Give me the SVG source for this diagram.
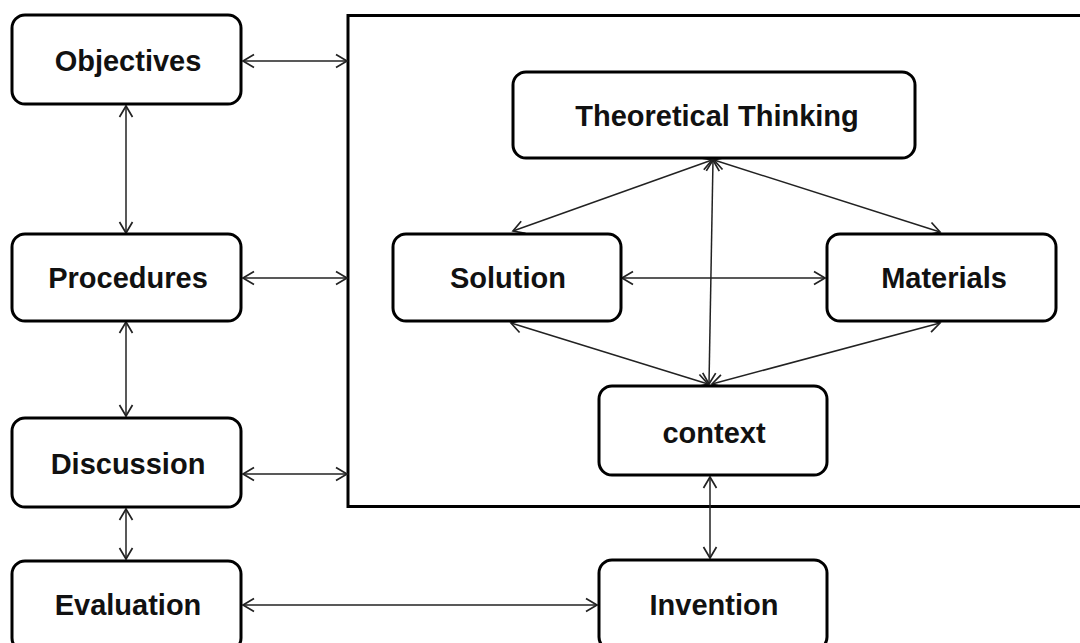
<svg xmlns="http://www.w3.org/2000/svg" width="1080" height="643" viewBox="0 0 1080 643">
<defs>
<marker id="ah" markerWidth="16" markerHeight="16" viewBox="-13 -8 15 16" refX="0" refY="0" orient="auto-start-reverse" markerUnits="userSpaceOnUse">
<path d="M-11,-6.5 L0,0 L-11,6.5" fill="none" stroke="#222" stroke-width="1.7"/>
</marker>
</defs>
<style>
.box{fill:#fff;stroke:#000;stroke-width:3}
.lbl{font-family:"Liberation Sans",Arial,sans-serif;font-weight:bold;font-size:29px;fill:#111;text-anchor:middle;dominant-baseline:central}
.c{fill:none;stroke:#222;stroke-width:1.5;marker-start:url(#ah);marker-end:url(#ah)}
</style>
<rect width="1080" height="643" fill="#fff"/>
<rect id="frame" x="348" y="15.5" width="740" height="491" fill="none" stroke="#000" stroke-width="3"/>
<g id="connectors">
<line class="c" x1="243" y1="61" x2="347" y2="61"/>
<line class="c" x1="243" y1="278" x2="347" y2="278"/>
<line class="c" x1="243" y1="474" x2="347" y2="474"/>
<line class="c" x1="126" y1="106" x2="126" y2="233"/>
<line class="c" x1="126" y1="322" x2="126" y2="416"/>
<line class="c" x1="126" y1="509" x2="126" y2="559"/>
<line class="c" x1="243" y1="605" x2="597" y2="605"/>
<line class="c" x1="710" y1="477" x2="710" y2="558"/>
<line class="c" x1="622" y1="278" x2="825" y2="278"/>
<line class="c" x1="712" y1="160" x2="513" y2="231"/>
<line class="c" x1="714" y1="160" x2="940" y2="232"/>
<line class="c" x1="713" y1="160" x2="709" y2="384"/>
<line class="c" x1="511" y1="323" x2="708" y2="384"/>
<line class="c" x1="940" y1="323" x2="712" y2="384"/>
</g>
<g id="objectives"><rect class="box" x="12" y="15" width="229" height="89" rx="13"/><text class="lbl" x="128" y="61">Objectives</text></g>
<g id="procedures"><rect class="box" x="12" y="234" width="229" height="87" rx="13"/><text class="lbl" x="128" y="278">Procedures</text></g>
<g id="discussion"><rect class="box" x="12" y="418" width="229" height="89" rx="13"/><text class="lbl" x="128" y="464">Discussion</text></g>
<g id="evaluation"><rect class="box" x="12" y="561" width="229" height="90" rx="13"/><text class="lbl" x="128" y="605">Evaluation</text></g>
<g id="theoretical"><rect class="box" x="513" y="72" width="402" height="86" rx="13"/><text class="lbl" x="717" y="116">Theoretical Thinking</text></g>
<g id="solution"><rect class="box" x="393" y="234" width="228" height="87" rx="13"/><text class="lbl" x="508" y="278">Solution</text></g>
<g id="materials"><rect class="box" x="827" y="234" width="229" height="87" rx="13"/><text class="lbl" x="944" y="278">Materials</text></g>
<g id="context"><rect class="box" x="599" y="386" width="228" height="89" rx="13"/><text class="lbl" x="714" y="433">context</text></g>
<g id="invention"><rect class="box" x="599" y="560" width="228" height="90" rx="13"/><text class="lbl" x="714" y="605">Invention</text></g>
</svg>
